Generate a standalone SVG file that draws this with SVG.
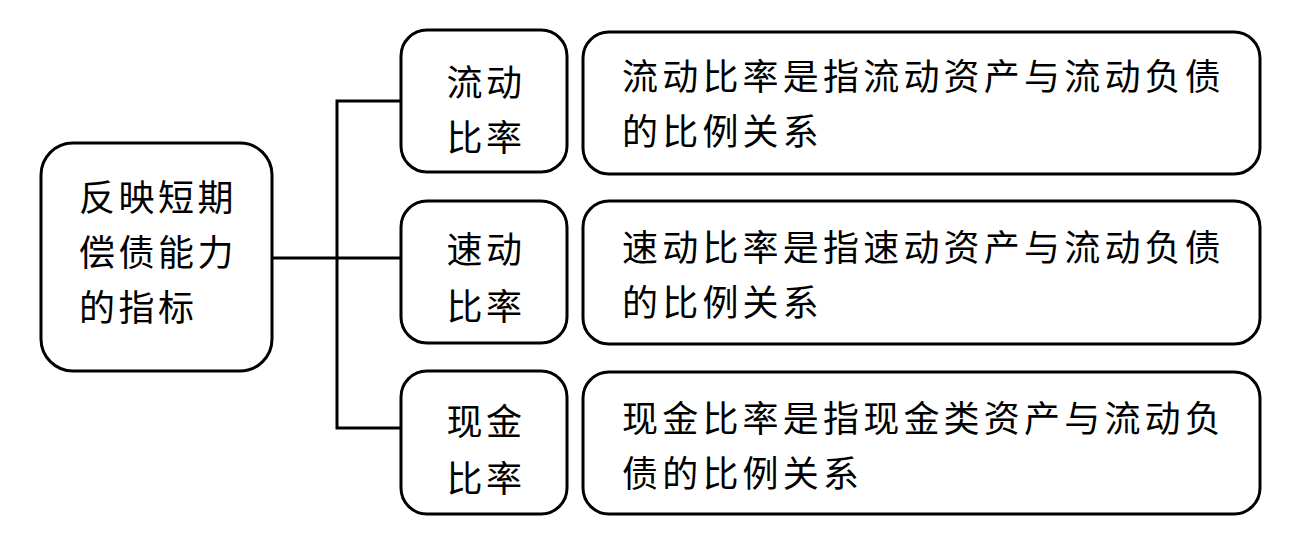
<svg xmlns="http://www.w3.org/2000/svg" width="1304" height="546" viewBox="0 0 1304 546">
<style>
.box{fill:#fff;stroke:#000;stroke-width:3}
.t{font-family:"Noto Sans CJK SC","Noto Sans CJK TC",sans-serif;font-size:36px;fill:#000;letter-spacing:3.5px}
.w{letter-spacing:4.2px}
.m{text-anchor:middle}
.ln{stroke:#000;stroke-width:3;fill:none}
</style>
<rect width="1304" height="546" fill="#fff"/>
<g id="connectors">
<path class="ln" d="M272 258 H401"/>
<path class="ln" d="M401 101 H337 V428 H401"/>
</g>
<g id="root">
<rect class="box" x="41" y="143" width="231" height="228" rx="32"/>
<text class="t" x="79" y="211">反映短期</text>
<text class="t" x="79" y="266">偿债能力</text>
<text class="t" x="79" y="321">的指标</text>
</g>
<g id="n1">
<rect class="box" x="401" y="30" width="166" height="142" rx="26"/>
<text class="t m" x="486" y="96">流动</text>
<text class="t m" x="486" y="151">比率</text>
</g>
<g id="n2">
<rect class="box" x="401" y="201" width="166" height="142" rx="26"/>
<text class="t m" x="486" y="263">速动</text>
<text class="t m" x="486" y="320">比率</text>
</g>
<g id="n3">
<rect class="box" x="401" y="371" width="166" height="143" rx="26"/>
<text class="t m" x="486" y="435">现金</text>
<text class="t m" x="486" y="492">比率</text>
</g>
<g id="d1">
<rect class="box" x="583" y="32" width="677" height="142" rx="26"/>
<text class="t w" x="622" y="90">流动比率是指流动资产与流动负债</text>
<text class="t w" x="622" y="145">的比例关系</text>
</g>
<g id="d2">
<rect class="box" x="583" y="201" width="677" height="143" rx="26"/>
<text class="t w" x="622" y="261">速动比率是指速动资产与流动负债</text>
<text class="t w" x="622" y="316">的比例关系</text>
</g>
<g id="d3">
<rect class="box" x="583" y="372" width="677" height="142" rx="26"/>
<text class="t w" x="622" y="432">现金比率是指现金类资产与流动负</text>
<text class="t w" x="622" y="487">债的比例关系</text>
</g>
</svg>
